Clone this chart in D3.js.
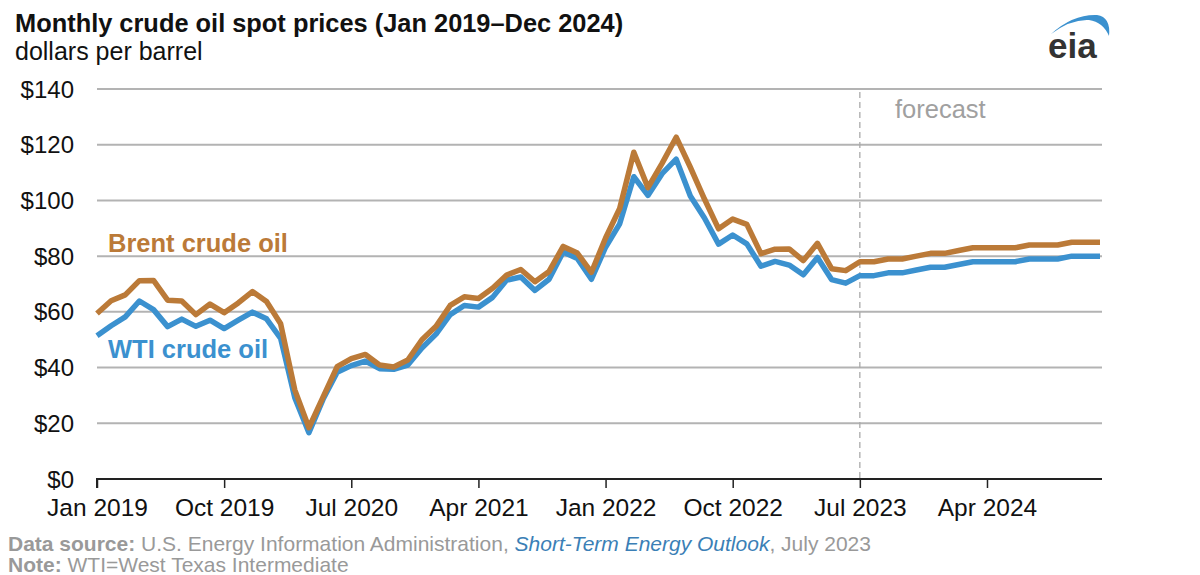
<!DOCTYPE html>
<html lang="en">
<head>
<meta charset="UTF-8">
<title>Monthly crude oil spot prices</title>
<script src="https://cdnjs.cloudflare.com/ajax/libs/d3/7.8.5/d3.min.js"></script>
<style>
    body { margin: 0; background: #fff; font-family: "Liberation Sans", Arial, sans-serif; }
    svg { display: block; }
    .grid line { stroke: #b3b3b3; stroke-width: 2; }
    .ylab { font-size: 24px; fill: #111; }
</style>
</head>
<body>
<svg id="chart" width="1200" height="575"></svg>
<script>
    // monthly values, Jan 2019 .. Dec 2024 (forecast from Jul 2023)
    const startYear = 2019;
    const brent = [
        59.4, 64.0, 66.1, 71.2, 71.3, 64.2, 63.9, 59.0, 62.8, 59.7, 63.2, 67.3,
        63.7, 55.7, 32.0, 18.4, 29.4, 40.3, 43.2, 44.7, 40.9, 40.2, 42.7, 50.0,
        54.8, 62.3, 65.4, 64.8, 68.5, 73.2, 75.2, 70.8, 74.5, 83.5, 81.1, 74.2,
        86.5, 97.1, 117.3, 104.6, 113.3, 122.7, 111.9, 100.5, 89.8, 93.3, 91.4, 80.9,
        82.5, 82.6, 78.4, 84.6, 75.5, 74.8, 78, 78, 79, 79, 80, 81,
        81, 82, 83, 83, 83, 83, 84, 84, 84, 85, 85, 85
    ];
    const wti = [
        51.4, 55.0, 58.2, 63.9, 60.8, 54.7, 57.4, 54.8, 57.0, 54.0, 57.0, 59.9,
        57.5, 50.5, 29.2, 16.6, 28.6, 38.3, 40.7, 42.3, 39.6, 39.4, 40.9, 47.0,
        52.0, 59.0, 62.3, 61.7, 65.2, 71.4, 72.5, 67.7, 71.7, 81.5, 79.2, 71.7,
        83.2, 91.6, 108.5, 101.8, 109.6, 114.8, 101.6, 93.7, 84.3, 87.6, 84.4, 76.4,
        78.1, 76.8, 73.3, 79.5, 71.6, 70.3, 73, 73, 74, 74, 75, 76,
        76, 77, 78, 78, 78, 78, 79, 79, 79, 80, 80, 80
    ];
    const forecastStart = 54; // Jul 2023
    const yTicks = [0, 20, 40, 60, 80, 100, 120, 140];
    const xTickIdx = [0, 9, 18, 27, 36, 45, 54, 63];
    const monthNames = ["Jan","Feb","Mar","Apr","May","Jun","Jul","Aug","Sep","Oct","Nov","Dec"];

    const svg = d3.select("#chart");
    const plotLeft = 97, plotRight = 1100, plotTop = 89, plotBottom = 479;

    const x = d3.scaleLinear().domain([0, brent.length - 1]).range([plotLeft, plotRight]);
    const y = d3.scaleLinear().domain([0, 140]).range([plotBottom, plotTop]);

    // gridlines
    const grid = svg.append("g").attr("class", "grid");
    grid.selectAll("line").data(yTicks.filter(d => d > 0)).enter()
        .append("line")
        .attr("x1", plotLeft).attr("x2", plotRight + 2)
        .attr("y1", d => y(d)).attr("y2", d => y(d));

    // y labels
    svg.selectAll(".ylab").data(yTicks).enter()
        .append("text")
        .attr("class", "ylab")
        .attr("x", 74)
        .attr("y", d => y(d) + 8.5)
        .attr("text-anchor", "end")
        .text(d => "$" + d);

    // x axis
    const xAxis = d3.axisBottom(x)
        .tickValues(xTickIdx)
        .tickSize(9)
        .tickFormat(i => monthNames[i % 12] + " " + (startYear + Math.floor(i / 12)));
    const gx = svg.append("g").attr("transform", `translate(0,${plotBottom})`).call(xAxis);
    gx.select(".domain").attr("stroke", "#222").attr("stroke-width", 2)
        .attr("d", `M${plotLeft},9V0H${plotRight + 2}`);
    gx.selectAll(".tick line").attr("stroke", "#222").attr("stroke-width", 1.5);
    gx.selectAll(".tick text")
        .attr("font-family", "Liberation Sans, Arial, sans-serif")
        .attr("font-size", 24.5)
        .attr("fill", "#111")
        .attr("y", 12)
        .attr("dy", "1em");

    // forecast divider
    svg.append("line")
        .attr("x1", x(forecastStart)).attr("x2", x(forecastStart))
        .attr("y1", 92).attr("y2", plotBottom)
        .attr("stroke", "#aaa").attr("stroke-width", 1.3)
        .attr("stroke-dasharray", "6,4");
    svg.append("text")
        .attr("x", 895).attr("y", 118)
        .attr("font-size", 25.5).attr("fill", "#a0a0a0")
        .text("forecast");

    // lines
    const line = d3.line().x((d, i) => x(i)).y(d => y(d));
    svg.append("path").datum(wti)
        .attr("d", line).attr("fill", "none")
        .attr("stroke", "#3b91cf").attr("stroke-width", 5.5)
        .attr("stroke-linejoin", "round");
    svg.append("path").datum(brent)
        .attr("d", line).attr("fill", "none")
        .attr("stroke", "#bb7a38").attr("stroke-width", 5.5)
        .attr("stroke-linejoin", "round");

    // series labels
    svg.append("text").attr("x", 108).attr("y", 252)
        .attr("font-size", 25.5).attr("font-weight", "bold").attr("fill", "#bb7a38")
        .text("Brent crude oil");
    svg.append("text").attr("x", 108).attr("y", 358)
        .attr("font-size", 25.5).attr("font-weight", "bold").attr("fill", "#3b91cf")
        .text("WTI crude oil");

    // title
    svg.append("text").attr("x", 15).attr("y", 32)
        .attr("font-size", 25.4).attr("font-weight", "bold").attr("fill", "#111")
        .text("Monthly crude oil spot prices (Jan 2019\u2013Dec 2024)");
    svg.append("text").attr("x", 15).attr("y", 60)
        .attr("font-size", 25).attr("fill", "#111")
        .text("dollars per barrel");

    // eia logo
    const logo = svg.append("g").attr("transform", "translate(1047,0)");
    logo.append("path")
        .attr("d", "M4,34 Q26,14 50,15 Q64,17 62,36 Q56,22 42,20 Q24,19 4,34 Z")
        .attr("fill", "#3b91cf");
    logo.append("text").attr("x", 1).attr("y", 58)
        .attr("font-size", 35).attr("font-weight", "bold").attr("fill", "#333")
        .text("eia");

    // footer
    const f1 = svg.append("text").attr("x", 8).attr("y", 551)
        .attr("font-size", 21).attr("fill", "#999");
    f1.append("tspan").attr("font-weight", "bold").text("Data source:");
    f1.append("tspan").text(" U.S. Energy Information Administration, ");
    f1.append("tspan").attr("font-style", "italic").attr("fill", "#3b7fb6").text("Short-Term Energy Outlook");
    f1.append("tspan").text(", July 2023");
    const f2 = svg.append("text").attr("x", 8).attr("y", 572)
        .attr("font-size", 21).attr("fill", "#999");
    f2.append("tspan").attr("font-weight", "bold").text("Note:");
    f2.append("tspan").text(" WTI=West Texas Intermediate");
</script>
</body>
</html>
